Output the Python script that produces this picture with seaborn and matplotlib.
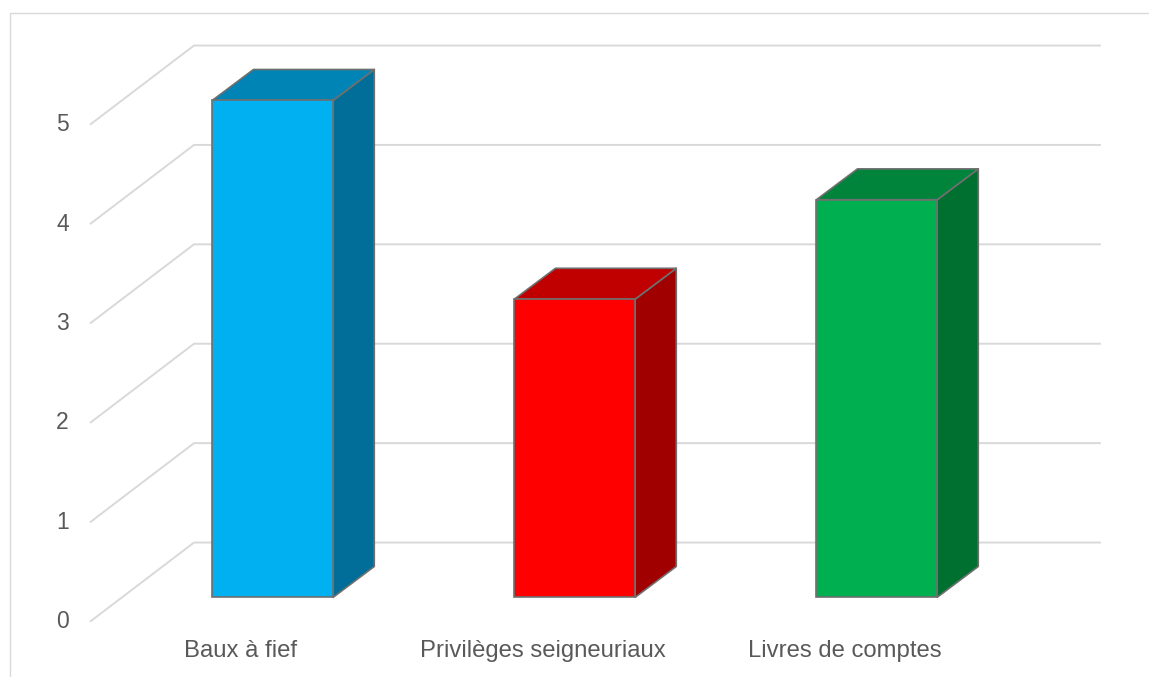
import matplotlib
matplotlib.use("Agg")
import matplotlib.pyplot as plt
from matplotlib.patches import Polygon
from matplotlib.lines import Line2D
import seaborn as sns
import pandas as pd

# ---- data ----
categories = ["Baux à fief", "Privilèges seigneuriaux", "Livres de comptes"]
values = [5, 3, 4]
front_colors = ["#00B0F0", "#FF0000", "#00B050"]
top_colors = ["#0084B6", "#C00000", "#00843C"]
side_colors = ["#006E98", "#A00000", "#007030"]
y_ticks = [0, 1, 2, 3, 4, 5]

# ---- style / projection parameters ----
BAR_W = 0.40
DEPTH_DX, DEPTH_DV = 0.136, 0.31        # bar depth (oblique)
FRONT_DX, FRONT_DV = -0.106, -0.2455    # front plane offset from bar plane
BACK_DX, BACK_DV = 0.2384, 0.551        # back wall offset from bar plane
GRID_LEFT_FRONT = -0.6053
GRID_LEFT_BACK = -0.2609
GRID_RIGHT = 2.742
GRID_C = "#D9D9D9"
EDGE_C = "#6F6F6F"
TEXT_C = "#595959"

sns.set_theme(style="white")
plt.rcParams["font.family"] = ["Liberation Sans", "DejaVu Sans"]

fig = plt.figure(figsize=(11.49, 6.77), dpi=100)
ax = fig.add_axes([0, 0, 1, 1])

df = pd.DataFrame({"cat": categories, "val": values})

# gridlines: front diagonal + back wall line
for k in y_ticks:
    vf, vb = k + FRONT_DV, k + BACK_DV
    ax.plot([GRID_LEFT_FRONT, GRID_LEFT_BACK, GRID_RIGHT], [vf, vb, vb],
            color=GRID_C, lw=1.4, zorder=0, solid_capstyle="butt")
    ax.text(-0.676, vf, str(k), ha="right", va="center",
            fontsize=16.5, color=TEXT_C)

sns.barplot(data=df, x="cat", y="val", hue="cat", palette=front_colors,
            width=BAR_W, edgecolor=EDGE_C, linewidth=1.2, legend=False,
            ax=ax, zorder=3, saturation=1)

for i, (v, ct, cs) in enumerate(zip(values, top_colors, side_colors)):
    xl, xr = i - BAR_W / 2, i + BAR_W / 2
    side = Polygon([(xr, 0), (xr + DEPTH_DX, DEPTH_DV),
                    (xr + DEPTH_DX, v + DEPTH_DV), (xr, v)],
                   closed=True, facecolor=cs, edgecolor=EDGE_C, lw=1.2,
                   zorder=2, joinstyle="round")
    top = Polygon([(xl, v), (xl + DEPTH_DX, v + DEPTH_DV),
                   (xr + DEPTH_DX, v + DEPTH_DV), (xr, v)],
                  closed=True, facecolor=ct, edgecolor=EDGE_C, lw=1.2,
                  zorder=2, joinstyle="round")
    ax.add_patch(side)
    ax.add_patch(top)
    ax.text(i + FRONT_DX, -0.54, categories[i], ha="center", va="center",
            fontsize=17.2, color=TEXT_C)

ax.set_xlim(-0.9033, 2.9013)
ax.set_ylim(-0.8018, 6.009)
ax.axis("off")

# outer chart frame (top and left edges)
fig.add_artist(Line2D([9.5 / 1149, 1.0], [1 - 13 / 677, 1 - 13 / 677],
                      transform=fig.transFigure, color=GRID_C, lw=1.0))
fig.add_artist(Line2D([9.5 / 1149, 9.5 / 1149], [0, 1 - 13 / 677],
                      transform=fig.transFigure, color=GRID_C, lw=1.0))

fig.savefig("out.png", dpi=100)
